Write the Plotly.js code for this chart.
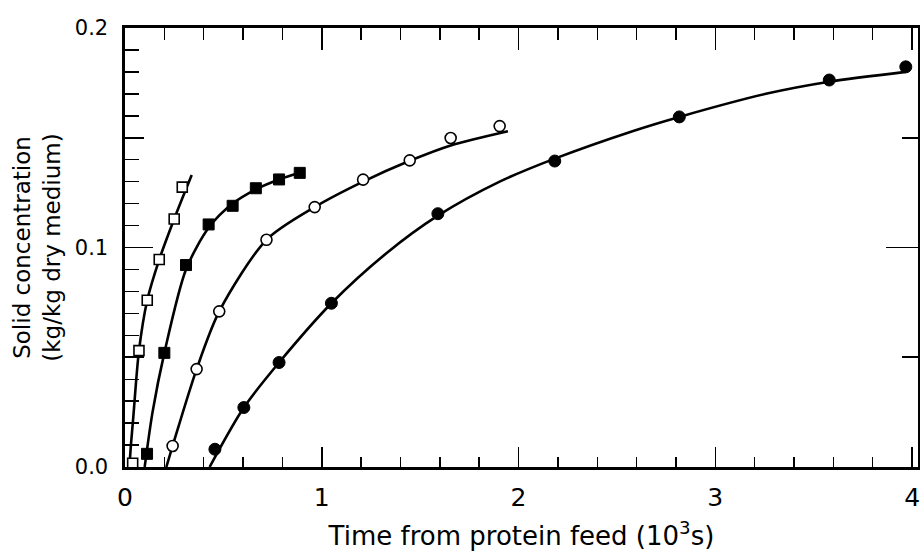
<!DOCTYPE html>
<html>
<head>
<meta charset="utf-8">
<script src="https://cdn.plot.ly/plotly-3.0.1.min.js"></script>
<style>html,body{margin:0;padding:0;background:#fff;}#chart{width:920px;height:551px;}</style>
</head>
<body>
<div id="chart"></div>
<script>
// Measured points (time in 10^3 s, solid concentration kg/kg dry medium)
const openSqX = [0.039, 0.071, 0.113, 0.174, 0.250, 0.291];
const openSqY = [0.0017, 0.053, 0.076, 0.0945, 0.113, 0.1275];
const fillSqX = [0.112, 0.200, 0.310, 0.425, 0.547, 0.665, 0.783, 0.888];
const fillSqY = [0.006, 0.052, 0.092, 0.1105, 0.119, 0.127, 0.131, 0.134];
const openCiX = [0.242, 0.364, 0.479, 0.719, 0.964, 1.210, 1.447, 1.655, 1.904];
const openCiY = [0.0096, 0.0446, 0.0709, 0.1035, 0.1184, 0.1309, 0.1397, 0.1499, 0.1553];
const fillCiX = [0.457, 0.604, 0.783, 1.049, 1.590, 2.184, 2.817, 3.579, 3.968];
const fillCiY = [0.0081, 0.0271, 0.0476, 0.0746, 0.1154, 0.1394, 0.1595, 0.1763, 0.1823];

// Fitted curves
const curveAX = [0.022, 0.030, 0.042, 0.071, 0.113, 0.174, 0.250, 0.339];
const curveAY = [0.0, 0.010, 0.0225, 0.053, 0.076, 0.0945, 0.113, 0.133];
const curveBX = [0.100, 0.140, 0.200, 0.310, 0.425, 0.547, 0.665, 0.783, 0.888];
const curveBY = [0.0, 0.025, 0.052, 0.090, 0.109, 0.120, 0.1265, 0.131, 0.134];
const curveCX = [0.210, 0.242, 0.364, 0.479, 0.719, 0.964, 1.210, 1.447, 1.655, 1.946];
const curveCY = [0.0, 0.0096, 0.0446, 0.0709, 0.1035, 0.1184, 0.1300, 0.1395, 0.1465, 0.1530];
const curveDX = [0.430, 0.604, 0.783, 1.049, 1.330, 1.590, 1.904, 2.184, 2.579, 2.817, 3.257, 3.579, 3.968];
const curveDY = [0.0, 0.0271, 0.0476, 0.0746, 0.0975, 0.1145, 0.1300, 0.1405, 0.1530, 0.1595, 0.1700, 0.1755, 0.1800];

const xTitle = 'Time from protein feed (10<sup>3</sup>s)';
const yTitle = 'Solid concentration<br>(kg/kg dry medium)';

const FONT = '"DejaVu Sans", sans-serif';
const lineStyle = {color: '#000', width: 2.6, shape: 'spline', smoothing: 0.8};

function curve(x, y) {
  return {x: x, y: y, mode: 'lines', line: lineStyle, hoverinfo: 'skip', showlegend: false};
}

const data = [
  curve(curveAX, curveAY), curve(curveBX, curveBY), curve(curveCX, curveCY), curve(curveDX, curveDY),
  {x: openSqX, y: openSqY, mode: 'markers', showlegend: false,
   marker: {symbol: 'square', size: 10, color: '#fff', line: {color: '#000', width: 1.6}}},
  {x: fillSqX, y: fillSqY, mode: 'markers', showlegend: false,
   marker: {symbol: 'square', size: 11, color: '#000', line: {color: '#000', width: 1}}},
  {x: openCiX, y: openCiY, mode: 'markers', showlegend: false,
   marker: {symbol: 'circle', size: 11, color: '#fff', line: {color: '#000', width: 1.6}}},
  {x: fillCiX, y: fillCiY, mode: 'markers', showlegend: false,
   marker: {symbol: 'circle', size: 12, color: '#000', line: {color: '#000', width: 1}}},
  // invisible helpers to activate the extra tick axes
  {x: [0], y: [0], xaxis: 'x2', yaxis: 'y2', mode: 'markers', marker: {opacity: 0}, hoverinfo: 'skip', showlegend: false},
  {x: [0], y: [0], xaxis: 'x', yaxis: 'y3', mode: 'markers', marker: {opacity: 0}, hoverinfo: 'skip', showlegend: false},
  {x: [0], y: [0], xaxis: 'x', yaxis: 'y4', mode: 'markers', marker: {opacity: 0}, hoverinfo: 'skip', showlegend: false}
];

const XR = [0, 4.03], YR = [0, 0.2];

const layout = {
  width: 920, height: 551,
  margin: {l: 125, r: 2, t: 28, b: 84},
  paper_bgcolor: '#fff', plot_bgcolor: '#fff',
  font: {family: FONT, color: '#000', size: 19},
  showlegend: false,
  xaxis: {
    range: XR, dtick: 1, tick0: 0, ticks: 'inside', ticklen: 20, tickwidth: 1.6, tickcolor: '#000',
    minor: {dtick: 0.2, tick0: 0, ticks: 'inside', ticklen: 10, tickwidth: 1.4, tickcolor: '#000'},
    showline: true, linewidth: 2.6, linecolor: '#000', showgrid: false, zeroline: false,
    tickfont: {size: 25, family: FONT}, ticklabelstandoff: 6, ticklabeloverflow: 'allow',
    title: {text: xTitle, font: {size: 26, family: FONT}, standoff: 20}
  },
  xaxis2: {
    range: XR, overlaying: 'x', side: 'top', dtick: 1, tick0: 0, ticks: 'inside', ticklen: 22, tickwidth: 1.6, tickcolor: '#000',
    minor: {dtick: 0.2, tick0: 0, ticks: 'inside', ticklen: 12, tickwidth: 1.4, tickcolor: '#000'},
    showline: true, linewidth: 2.6, linecolor: '#000', showgrid: false, zeroline: false, showticklabels: false
  },
  yaxis: {
    range: YR, dtick: 0.1, tick0: 0, tickformat: '.1f', ticks: 'inside', ticklen: 28, tickwidth: 1.6, tickcolor: '#000',
    minor: {dtick: 0.01, tick0: 0, ticks: 'inside', ticklen: 14, tickwidth: 1.4, tickcolor: '#000'},
    showline: true, linewidth: 2.6, linecolor: '#000', showgrid: false, zeroline: false,
    tickfont: {size: 21, family: FONT}, ticklabelstandoff: 10,
    title: {text: yTitle, font: {size: 23, family: FONT}, standoff: 8}
  },
  yaxis3: {
    range: YR, overlaying: 'y', side: 'left', dtick: 0.05, tick0: 0, ticks: 'inside', ticklen: 19, tickwidth: 1.6, tickcolor: '#000',
    showline: false, showgrid: false, zeroline: false, showticklabels: false
  },
  yaxis2: {
    range: YR, overlaying: 'y', side: 'right', dtick: 0.05, tick0: 0, ticks: 'inside', ticklen: 16, tickwidth: 1.6, tickcolor: '#000',
    showline: true, linewidth: 2.6, linecolor: '#000', showgrid: false, zeroline: false, showticklabels: false
  },
  yaxis4: {
    range: YR, overlaying: 'y', side: 'right', tickvals: [0.1], ticks: 'inside', ticklen: 32, tickwidth: 1.6, tickcolor: '#000',
    showline: false, showgrid: false, zeroline: false, showticklabels: false
  }
};

Plotly.newPlot('chart', data, layout, {displayModeBar: false, staticPlot: true});
</script>
</body>
</html>
